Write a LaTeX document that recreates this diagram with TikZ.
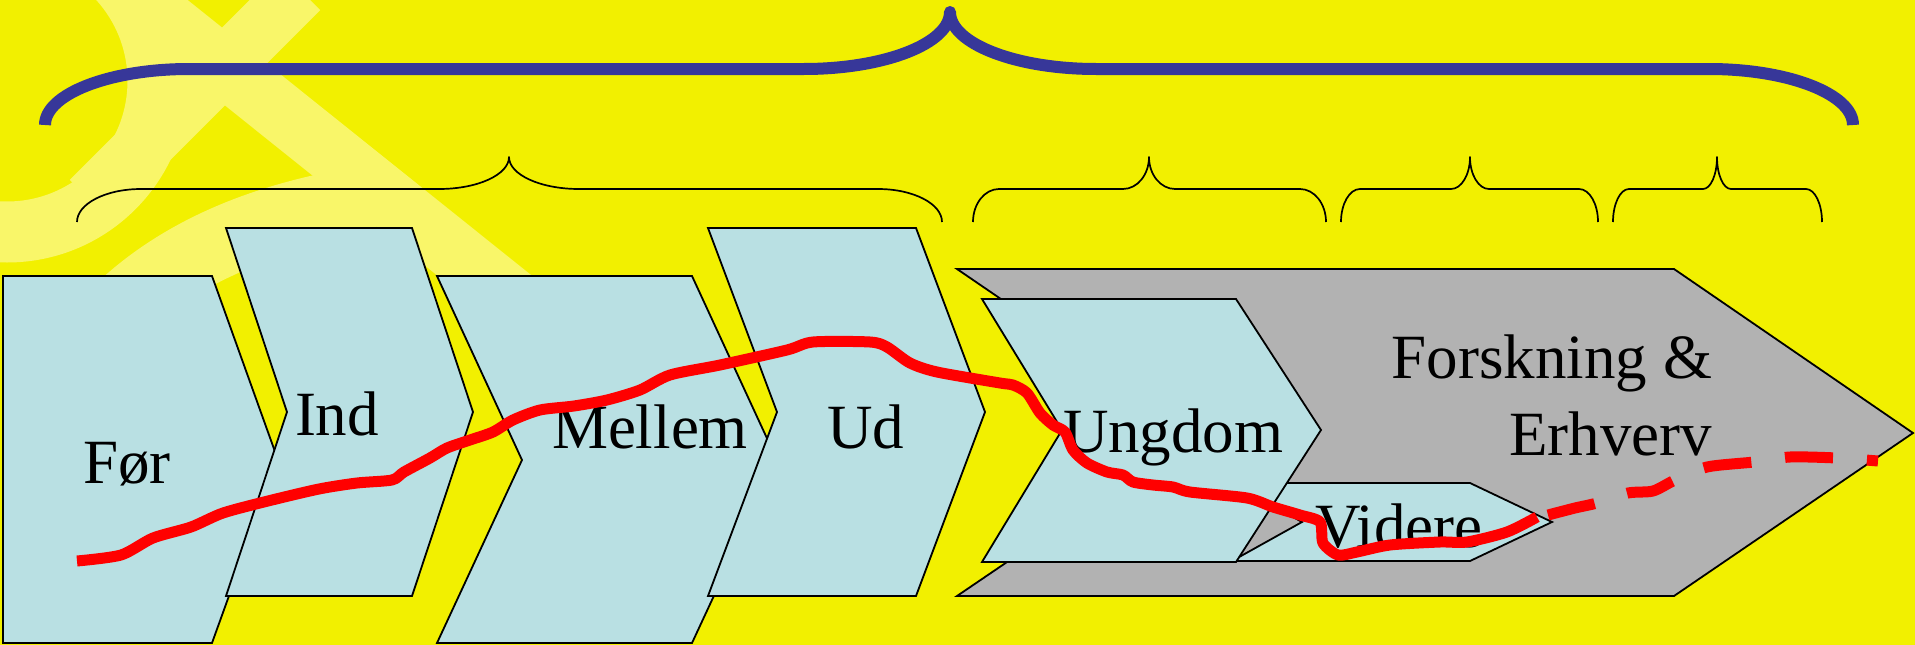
\documentclass[tikz,border=0pt]{standalone}
\usepackage{fontspec}
\setmainfont{Liberation Serif}
\definecolor{bgyellow}{RGB}{242,240,0}
\definecolor{paleyellow}{RGB}{249,246,105}
\definecolor{lightblue}{RGB}{185,224,227}
\definecolor{greyfill}{RGB}{178,178,178}
\definecolor{braceblue}{RGB}{55,55,153}
\newcommand{\hbr}[8]{%
 (#1,#6) .. controls (#1,{#7+0.448*(#6-#7)}) and ({#1+0.448*#2},#7) .. ({#1+#2},#7)
 -- ({#3-#4},#7) .. controls ({#3-0.448*#4},#7) and (#3,{#8+0.552*(#7-#8)}) .. (#3,#8)
 .. controls (#3,{#8+0.552*(#7-#8)}) and ({#3+0.448*#4},#7) .. ({#3+#4},#7)
 -- ({#5-#2},#7) .. controls ({#5-0.448*#2},#7) and (#5,{#7+0.448*(#6-#7)}) .. (#5,#6)}
\tikzset{
  stagebox/.style={fill=lightblue, draw=black, line width=1.8pt, line join=miter},
  greybox/.style={fill=greyfill, draw=black, line width=1.8pt, line join=miter},
  stagetext/.style={inner sep=0pt, outer sep=0pt, font=\fontsize{63}{76}\selectfont},
  wm/.style={draw=paleyellow, line cap=butt},
  smallbrace/.style={draw=black, line width=1.7pt, line join=round},
  bigbrace/.style={draw=braceblue, line width=12pt, line join=round, line cap=butt},
  journey/.style={draw=red, line width=11pt, line join=round, line cap=butt}
}
\begin{document}
\begin{tikzpicture}[x=1pt,y=-1pt]
\useasboundingbox (0,0) rectangle (1915,645);
\fill[bgyellow] (0,0) rectangle (1915,645);
% watermark
\begin{scope}
\clip (0,0) rectangle (1915,645);
\draw[wm, line width=61pt] (7,81) circle[radius=151];
\draw[wm, line width=57pt] (300,-10) -- (90,200);
\draw[wm, line width=59pt] (128,-10) -- (600,368);
\draw[wm, line width=70pt] (100,330) .. controls (160,262) and (250,218) .. (372,200);
\end{scope}
% braces
\draw[bigbrace] \hbr{45}{144}{950}{146}{1853}{125}{69}{12};
\draw[smallbrace] \hbr{77}{64}{509}{70}{942}{222}{189}{157};
\draw[smallbrace] \hbr{973}{26}{1149}{26}{1326}{222}{189}{157};
\draw[smallbrace] \hbr{1341}{19}{1470}{19}{1598}{222}{189}{157};
\draw[smallbrace] \hbr{1613}{16}{1717}{14}{1822}{222}{189}{157};
% stages
\draw[stagebox] (3,276) -- (212,276) -- (278,460) -- (212,643) -- (3,643) -- cycle;
\draw[stagebox] (226,228) -- (412,228) -- (473,412) -- (412,596) -- (226,596) -- (287,412) -- cycle;
\draw[stagebox] (437,276) -- (692,276) -- (777,460) -- (692,643) -- (437,643) -- (522,460) -- cycle;
\draw[stagebox] (708,228) -- (916,228) -- (985,412) -- (916,596) -- (708,596) -- (777,412) -- cycle;
\draw[greybox] (957,269) -- (1674,269) -- (1913,433) -- (1674,596) -- (957,596) -- (1197,433) -- cycle;
\draw[stagebox] (1232,483) -- (1470,483) -- (1552,522) -- (1470,561) -- (1232,561) -- (1302,522) -- cycle;
\draw[stagebox] (982,299) -- (1236,299) -- (1321,430) -- (1236,562) -- (982,562) -- (1062,430) -- cycle;
% texts
\node[stagetext, anchor=base west] (for) at (83,483) {Før};
\node[stagetext, anchor=base west] (ind) at (295,435) {Ind};
\node[stagetext, anchor=base west] (mellem) at (552,448) {Mellem};
\node[stagetext, anchor=base west] (ud) at (827,448) {Ud};
\node[stagetext, anchor=base west] (ungdom) at (1063,452) {Ungdom};
\node[stagetext, anchor=base east] (forsk) at (1712,378) {Forskning \&};
\node[stagetext, anchor=base east] (erhverv) at (1712,455) {Erhverv};
\node[stagetext, anchor=base west] (videre) at (1315,547) {Videre};
% red path
\draw[journey] plot[smooth, tension=0.45] coordinates {
(77,561) (121,555) (153,538) (191,527) (223,513) (268,501) (319,489) (357,483)
(392,480) (404,472) (430,458) (447,448) (470,440) (493,432) (513,420) (540,410)
(574,406) (607,400) (640,390) (670,375) (720,365) (787,350) (813,342) (870,342)
(887,347) (910,363) (937,372) (1000,383) (1013,385) (1027,393) (1040,413) (1053,425)
(1065,432) (1073,450) (1087,463) (1107,472) (1123,475) (1133,482) (1153,485) (1173,487)
(1190,492) (1247,498) (1273,507) (1300,515) (1320,522) (1323,543) (1338,555) (1357,552)
(1390,545) (1440,542) (1467,542) (1507,532) (1537,517)};
\draw[journey, dash pattern=on 48pt off 34pt] plot[smooth, tension=0.45] coordinates {
(1548,515) (1575,508) (1597,503) (1628,493) (1653,491) (1675,480) (1707,467)
(1754,462) (1790,457) (1837,458) (1878,461)};
\end{tikzpicture}
\end{document}
